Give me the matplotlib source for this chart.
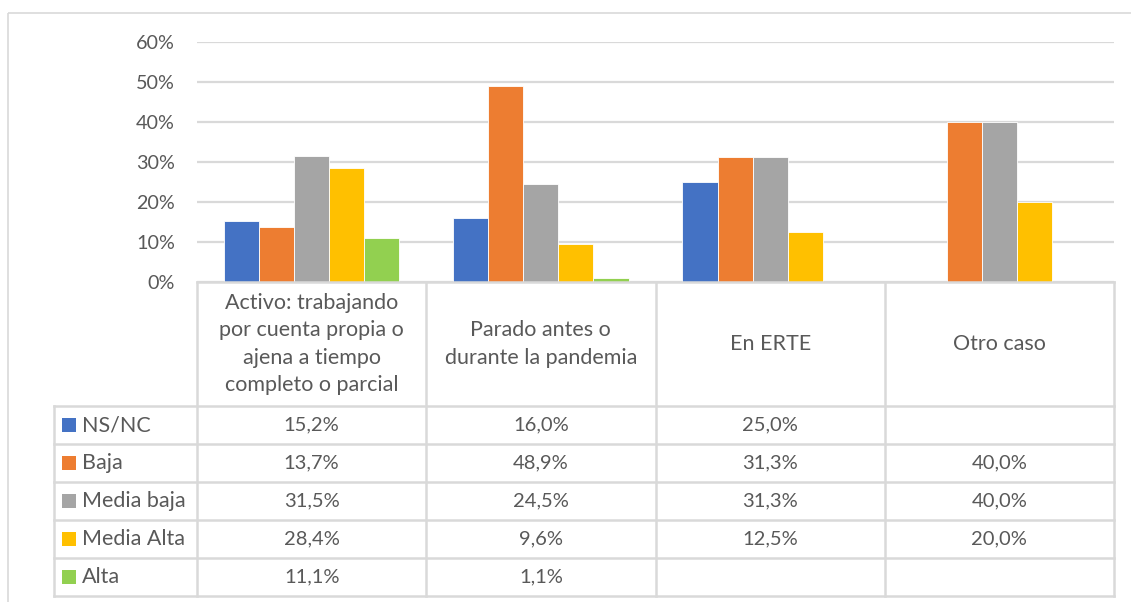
import matplotlib.pyplot as plt
import matplotlib.transforms as mtransforms
from matplotlib.patches import Rectangle
from matplotlib.ticker import FuncFormatter
import numpy as np

plt.rcParams['font.family'] = ['Lato', 'DejaVu Sans']

categories = [
    "Activo: trabajando\npor cuenta propia o\najena a tiempo\ncompleto o parcial",
    "Parado antes o\ndurante la pandemia",
    "En ERTE",
    "Otro caso",
]
series_names = ["NS/NC", "Baja", "Media baja", "Media Alta", "Alta"]
ns_nc = [15.2, 16.0, 25.0, np.nan]
baja = [13.7, 48.9, 31.3, 40.0]
media_baja = [31.5, 24.5, 31.3, 40.0]
media_alta = [28.4, 9.6, 12.5, 20.0]
alta = [11.1, 1.1, np.nan, np.nan]
series = [ns_nc, baja, media_baja, media_alta, alta]
colors = ["#4472C4", "#ED7D31", "#A5A5A5", "#FFC000", "#92D050"]
y_ticks = [0, 10, 20, 30, 40, 50, 60]

TEXT = "#595959"
GRID = "#D9D9D9"
FS_TICK = 14.2
FS_VAL = 14.5
FS_LBL = 15.5

W, H = 1131, 602
fig = plt.figure(figsize=(W / 100, H / 100), dpi=100)
# pixel coordinates, origin top-left
px = mtransforms.Affine2D().scale(1 / W, -1 / H).translate(0, 1) + fig.transFigure

left, right, top, bottom = 197, 1114, 42, 282
ax = fig.add_axes([left / W, 1 - bottom / H, (right - left) / W, (bottom - top) / H])

x = np.arange(len(categories))
bar_w = 0.153
for i, (vals, col) in enumerate(zip(series, colors)):
    ax.bar(x + (i - 2) * bar_w, vals, bar_w, color=col,
           edgecolor="white", linewidth=0.6, zorder=3)

ax.set_xlim(-0.5, len(categories) - 0.5)
ax.set_ylim(0, 60)
ax.set_yticks(y_ticks)
ax.yaxis.set_major_formatter(FuncFormatter(lambda v, _: f"{v:.0f}%"))
ax.set_xticks([])
ax.tick_params(axis="y", length=0, pad=16, labelsize=FS_TICK, labelcolor=TEXT)
ax.yaxis.grid(True, color=GRID, linewidth=1.6, zorder=0)
for s in ax.spines.values():
    s.set_visible(False)

# outer chart border
fig.add_artist(Rectangle((8, 13), 1300, 800, transform=px, fill=False,
                         edgecolor=GRID, linewidth=1.2))

# data table under the chart
col_edges = np.linspace(left, right, len(categories) + 1)
header_bottom = 406
row_h = 38
row_edges = [header_bottom + k * row_h for k in range(len(series) + 1)]
leg_left = 54


def line(xs, ys):
    fig.add_artist(plt.Line2D(xs, ys, transform=px, color=GRID, linewidth=1.8))


for cx in col_edges:
    line([cx, cx], [bottom, row_edges[-1]])
line([leg_left, leg_left], [header_bottom, row_edges[-1]])
line([left, right], [bottom, bottom])
for ry in row_edges:
    line([leg_left, right], [ry, ry])

col_centers = (col_edges[:-1] + col_edges[1:]) / 2
for cx, label in zip(col_centers, categories):
    fig.text(cx, (bottom + header_bottom) / 2, label, transform=px,
             ha="center", va="center", fontsize=FS_LBL, color=TEXT,
             linespacing=1.45)

for r, (name, vals, col) in enumerate(zip(series_names, series, colors)):
    yc = (row_edges[r] + row_edges[r + 1]) / 2
    fig.add_artist(Rectangle((62, yc - 7), 14, 14, transform=px,
                             facecolor=col, edgecolor="none"))
    fig.text(82, yc, name, transform=px, ha="left", va="center",
             fontsize=FS_LBL, color=TEXT)
    for cx, v in zip(col_centers, vals):
        if np.isnan(v):
            continue
        fig.text(cx, yc, f"{v:.1f}%".replace(".", ","), transform=px,
                 ha="center", va="center", fontsize=FS_VAL, color=TEXT)

fig.savefig("out.png", dpi=100)
